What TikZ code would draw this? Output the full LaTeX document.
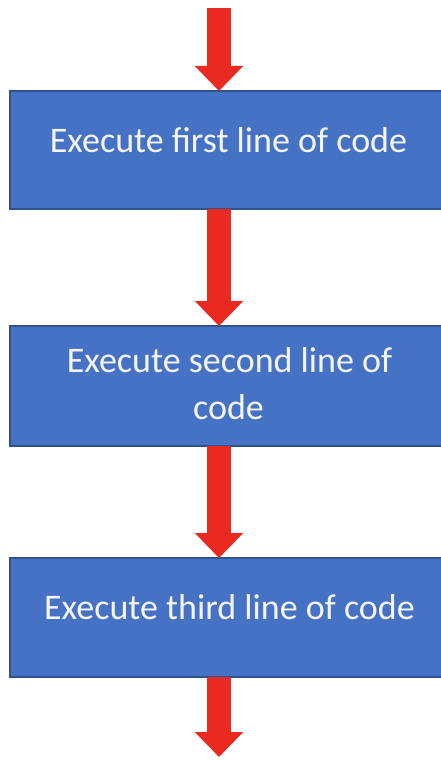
\documentclass[tikz,border=0pt]{standalone}
\usepackage{fontspec}
\setmainfont{Carlito}
\usetikzlibrary{arrows.meta}
\definecolor{boxblue}{RGB}{69,114,196}
\definecolor{boxedge}{RGB}{47,82,143}
\definecolor{arrred}{RGB}{234,41,33}
\definecolor{txtwhite}{RGB}{245,245,245}
\tikzset{
  stepbox/.style={draw=boxedge, line width=1.2pt, fill=boxblue, minimum width=438pt, inner sep=0pt, outer sep=0pt},
  steptext/.style={text=txtwhite, font=\fontsize{36}{47}\selectfont, anchor=base, inner sep=0pt},
  bigarrow/.style={draw=arrred, line width=24pt, -{Triangle[width=47pt,length=25pt,fill=arrred]}, shorten <=0pt}
}
\begin{document}
\begin{tikzpicture}[x=1pt,y=-1pt]
\useasboundingbox (0,0) rectangle (441,760);
\clip (0,0) rectangle (441,760);
\fill[white] (0,0) rectangle (441,760);
\node[stepbox, minimum height=118pt] (b1) at (229,150) {};
\node[stepbox, minimum height=120pt] (b2) at (229,386) {};
\node[stepbox, minimum height=119pt] (b3) at (229,617.5) {};
\node[steptext] (t1) at (228.5,152) {Execute first line of code};
\node[steptext] (t2a) at (229.5,372) {Execute second line of};
\node[steptext] (t2b) at (228.5,419) {code};
\node[steptext] (t3) at (229.5,619) {Execute third line of code};
\coordinate (c0) at (219,8);
\coordinate (c4) at (219,757);
\draw[bigarrow] (c0) -- ([xshift=-10pt]b1.north);
\draw[bigarrow] ([xshift=-10pt]b1.south) -- ([xshift=-10pt]b2.north);
\draw[bigarrow] ([xshift=-10pt]b2.south) -- ([xshift=-10pt]b3.north);
\draw[bigarrow] ([xshift=-10pt]b3.south) -- (c4);
\end{tikzpicture}
\end{document}
